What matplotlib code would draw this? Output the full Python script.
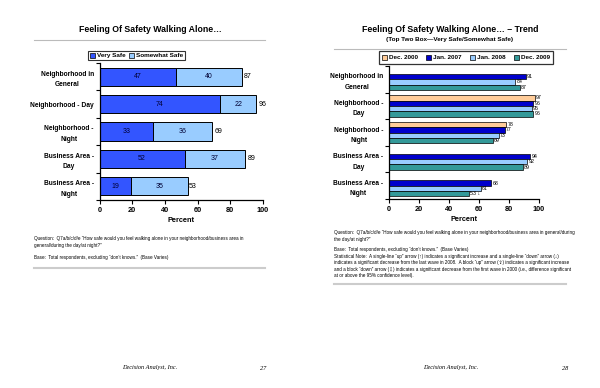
import matplotlib.pyplot as plt
import numpy as np
from matplotlib.patches import Patch
from matplotlib.lines import Line2D

plt.rcParams['font.family'] = ['Liberation Sans', 'DejaVu Sans']

# left page data
cats_left = ["Neighborhood in\nGeneral", "Neighborhood - Day", "Neighborhood -\nNight",
             "Business Area -\nDay", "Business Area -\nNight"]
very_safe = np.array([47, 74, 33, 52, 19])
somewhat_safe = np.array([40, 22, 36, 37, 35])
top_two = np.array([87, 96, 69, 89, 53])

# right page data (trend)
cats_right = ["Neighborhood in\nGeneral", "Neighborhood -\nDay", "Neighborhood -\nNight",
              "Business Area -\nDay", "Business Area -\nNight"]
waves = ["Dec. 2000", "Jan. 2007", "Jan. 2008", "Dec. 2009"]
trend = {
    "Dec. 2000": [np.nan, 97, 78, np.nan, np.nan],
    "Jan. 2007": [91, 96, 77, 94, 68],
    "Jan. 2008": [84, 95, 73, 92, 61],
    "Dec. 2009": [87, 96, 69, 89, 53],
}
trend_labels = {
    "Dec. 2000": ["", "97", "78", "", ""],
    "Jan. 2007": ["91", "96", "77", "94", "68"],
    "Jan. 2008": ["84", "95", "73", "92", "61"],
    "Dec. 2009": ["87", "96", "69", "89", "53 \u2193"],
}
wave_colors = ["#FFCC99", "#0000CC", "#99CCFF", "#339999"]

W, H = 600, 388
fig = plt.figure(figsize=(6, 3.88), dpi=100)


def fx(px):
    return px / W


def fy(py):
    return 1 - py / H


def hline(x0, x1, y, color, lw):
    fig.add_artist(Line2D([fx(x0), fx(x1)], [fy(y), fy(y)], color=color, lw=lw,
                          transform=fig.transFigure))


def style_axis(ax, n):
    for s in ["top", "right"]:
        ax.spines[s].set_visible(False)
    for s in ["left", "bottom"]:
        ax.spines[s].set_linewidth(0.9)
    ax.set_xlim(0, 100)
    ax.set_xticks(range(0, 101, 20))
    ax.set_ylim(n - 0.5, -0.5)
    ax.set_yticks(range(n))
    ax.set_yticks(np.arange(-0.5, n, 1), minor=True)
    ax.tick_params(axis="y", which="major", length=0, pad=4)
    ax.tick_params(axis="y", which="minor", length=3, width=0.8)
    ax.tick_params(axis="x", length=3, width=0.8, labelsize=5.3, pad=2)
    for lab in ax.get_xticklabels():
        lab.set_fontweight("bold")
    ax.set_xlabel("Percent", fontsize=5.3, fontweight="bold", labelpad=2)


def set_cat_labels(ax, cats):
    ax.set_yticklabels(cats, fontsize=4.8, fontweight="bold", linespacing=1.7)
    for lab in ax.get_yticklabels():
        lab.set_multialignment("center")


# ---------------- left page ----------------
hline(34, 265, 40, "#bbbbbb", 0.8)
fig.text(fx(150), fy(29), "Feeling Of Safety Walking Alone\u2026", ha="center", va="center",
         fontsize=6.3, fontweight="bold")

axl = fig.add_axes([fx(99.5), fy(200), fx(263) - fx(99.5), (200 - 63) / H])
y = np.arange(len(cats_left))
axl.barh(y, very_safe, height=0.66, color="#3355FF", edgecolor="black", lw=0.7)
axl.barh(y, somewhat_safe, left=very_safe, height=0.66, color="#99CCFF", edgecolor="black", lw=0.7)
for i in range(len(cats_left)):
    axl.text(very_safe[i] / 2, i, str(very_safe[i]), ha="center", va="center", fontsize=5,
             color="#000033")
    axl.text(very_safe[i] + somewhat_safe[i] / 2, i, str(somewhat_safe[i]), ha="center",
             va="center", fontsize=5, color="#000033")
    axl.text(top_two[i] + 1.5, i, str(top_two[i]), ha="left", va="center", fontsize=5)
style_axis(axl, len(cats_left))
set_cat_labels(axl, cats_left)

leg = fig.legend(handles=[Patch(facecolor="#3355FF", edgecolor="black", lw=0.5, label="Very Safe"),
                          Patch(facecolor="#99CCFF", edgecolor="black", lw=0.5, label="Somewhat Safe")],
                 loc="center", bbox_to_anchor=(fx(136.5), fy(55.5)), ncol=2,
                 frameon=True, fancybox=False, handlelength=0.8, handleheight=0.8,
                 handletextpad=0.3, columnspacing=0.6, borderpad=0.3,
                 prop={"weight": "bold", "size": 4.6})
leg.get_frame().set_edgecolor("black")
leg.get_frame().set_linewidth(0.8)

fig.text(fx(34), fy(242), "Question:  Q7a/b/c/d/e \u201cHow safe would you feel walking alone in your "
         "neighborhood/business area in\ngeneral/during the day/at night?\u201d",
         ha="left", va="center", fontsize=3.3, linespacing=1.3)
fig.text(fx(34), fy(258), "Base:  Total respondents, excluding \u201cdon\u2019t knows.\u201d  (Base Varies)",
         ha="left", va="center", fontsize=3.3)
hline(34, 265, 268, "#cccccc", 1.5)

fig.text(fx(150), fy(368), "Decision Analyst, Inc.", ha="center", va="center", fontsize=4.5,
         style="italic", family="Liberation Serif")
fig.text(fx(263), fy(368), "27", ha="center", va="center", fontsize=4.5, style="italic",
         family="Liberation Serif")

# ---------------- right page ----------------
hline(334, 566, 49, "#bbbbbb", 0.8)
fig.text(fx(450), fy(29), "Feeling Of Safety Walking Alone\u2026 \u2013 Trend", ha="center",
         va="center", fontsize=6.3, fontweight="bold")
fig.text(fx(450), fy(39), "(Top Two Box\u2014Very Safe/Somewhat Safe)", ha="center", va="center",
         fontsize=4.6, fontweight="bold")

axr = fig.add_axes([fx(389), fy(199), fx(539) - fx(389), (199 - 66) / H])
yr = np.arange(len(cats_right))
bh = 0.2
for k, w in enumerate(waves):
    vals = np.array(trend[w], dtype=float)
    pos = yr + (k - 1.5) * bh
    mask = ~np.isnan(vals)
    axr.barh(pos[mask], vals[mask], height=bh, color=wave_colors[k], edgecolor="black", lw=0.5)
    for p, v, lab in zip(pos, vals, trend_labels[w]):
        if not np.isnan(v):
            axr.text(v + 1, p, lab, ha="left", va="center", fontsize=3.8)
style_axis(axr, len(cats_right))
set_cat_labels(axr, cats_right)

leg2 = fig.legend(handles=[Patch(facecolor=c, edgecolor="black", lw=0.5, label=w)
                           for w, c in zip(waves, wave_colors)],
                  loc="center", bbox_to_anchor=(fx(466), fy(57.5)), ncol=4,
                  frameon=True, fancybox=False, handlelength=0.8, handleheight=0.8,
                  handletextpad=0.3, columnspacing=1.3, borderpad=0.5,
                  prop={"weight": "bold", "size": 4.6})
leg2.get_frame().set_edgecolor("black")
leg2.get_frame().set_linewidth(0.9)

fig.text(fx(334), fy(236), "Question:  Q7a/b/c/d/e \u201cHow safe would you feel walking alone in your "
         "neighborhood/business area in general/during\nthe day/at night?\u201d",
         ha="left", va="center", fontsize=3.3, linespacing=1.3)
fig.text(fx(334), fy(249), "Base:  Total respondents, excluding \u201cdon\u2019t knows.\u201d  (Base Varies)",
         ha="left", va="center", fontsize=3.3)
fig.text(fx(334), fy(266),
         "Statistical Note:  A single-line \u201cup\u201d arrow (\u2191) indicates a significant increase "
         "and a single-line \u201cdown\u201d arrow (\u2193)\nindicates a significant decrease from the "
         "last wave in 2008.  A block \u201cup\u201d arrow (\u21e7) indicates a significant increase\n"
         "and a block \u201cdown\u201d arrow (\u21e9) indicates a significant decrease from the first "
         "wave in 2000 (i.e., difference significant\nat or above the 95% confidence level).",
         ha="left", va="center", fontsize=3.3, linespacing=1.3)
hline(334, 566, 284, "#cccccc", 1.5)

fig.text(fx(451), fy(368), "Decision Analyst, Inc.", ha="center", va="center", fontsize=4.5,
         style="italic", family="Liberation Serif")
fig.text(fx(565), fy(368), "28", ha="center", va="center", fontsize=4.5, style="italic",
         family="Liberation Serif")

fig.savefig("out.png", dpi=100, facecolor="white")
